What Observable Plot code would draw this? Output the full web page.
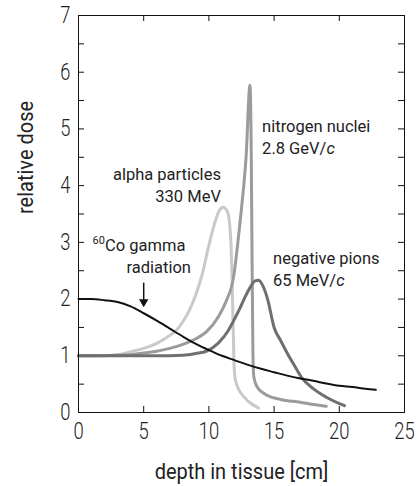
<!DOCTYPE html>
<html><head><meta charset="utf-8">
<script src="https://cdn.jsdelivr.net/npm/d3@7"></script>
<script src="https://cdn.jsdelivr.net/npm/@observablehq/plot@0.6"></script>
<style>body{margin:0;background:#fff}</style>
</head><body><div id="chart"></div>
<script>
// ---- data ----
const alphaDepth = [0, 2, 3, 4, 5, 6, 7, 7.5, 8, 8.5, 9, 9.5, 10, 10.5, 10.8, 11.1, 11.4, 11.6, 11.75, 11.85, 11.92, 12.0, 12.2, 12.5, 13.0, 13.8];
const alphaDose  = [1.0, 1.0, 1.02, 1.07, 1.13, 1.22, 1.36, 1.45, 1.6, 1.8, 2.08, 2.45, 2.95, 3.38, 3.56, 3.62, 3.55, 3.3, 2.6, 1.6, 0.9, 0.62, 0.45, 0.33, 0.2, 0.08];

const nitrogenDepth = [0, 4, 5, 6, 7, 8, 9, 9.8, 10.7, 11.3, 11.9, 12.2, 12.5, 12.85, 13.15, 13.25, 13.3, 13.38, 13.45, 13.7, 14.5, 15.5, 17, 18, 19];
const nitrogenDose  = [1.0, 1.02, 1.05, 1.08, 1.13, 1.2, 1.3, 1.42, 1.68, 1.95, 2.4, 2.95, 3.6, 4.5, 5.77, 4.5, 3.0, 1.0, 0.62, 0.45, 0.3, 0.23, 0.18, 0.14, 0.11];

const pionDepth = [0, 6, 8, 9, 9.8, 10.7, 11.5, 11.9, 12.3, 12.7, 13.2, 13.55, 13.8, 14.1, 14.5, 15.0, 15.5, 16.0, 16.5, 17.1, 18, 19, 20.4];
const pionDose  = [1.0, 1.0, 1.01, 1.04, 1.08, 1.22, 1.45, 1.62, 1.8, 2.0, 2.22, 2.32, 2.33, 2.25, 2.0, 1.5, 1.27, 1.05, 0.85, 0.62, 0.42, 0.27, 0.12];

const cobaltDepth = [0, 1, 2, 3, 4, 5, 6, 7, 8, 9, 10, 11, 12, 13, 14, 15, 16, 17, 18, 19, 20, 21, 22, 22.8];
const cobaltDose  = [2.0, 2.0, 1.98, 1.95, 1.87, 1.75, 1.62, 1.48, 1.34, 1.21, 1.1, 1.0, 0.92, 0.84, 0.77, 0.71, 0.65, 0.6, 0.56, 0.51, 0.47, 0.45, 0.42, 0.40];

const xTicks = [0, 5, 10, 15, 20, 25];
const yTicks = [0, 1, 2, 3, 4, 5, 6, 7];
const yMinorTicks = [0.5, 1, 1.5, 2, 2.5, 3, 3.5, 4, 4.5, 5, 5.5, 6, 6.5];
const xInnerTicks = [5, 10, 15, 20];

const xLabel = "depth in tissue [cm]";
const yLabel = "relative dose";

// annotation labels (text, anchor depth, anchor dose)
const labels = [
  {text: "alpha particles\n330 MeV", depth: 10.92, dose: 4.03, anchor: "end"},
  {text: "60Co gamma", depth: 1.08, dose: 2.98, anchor: "start"},
  {text: "radiation", depth: 6.15, dose: 2.59, anchor: "middle"},
  {text: "nitrogen nuclei\n2.8 GeV/c", depth: 14.08, dose: 4.88, anchor: "start"},
  {text: "negative pions\n65 MeV/c", depth: 14.92, dose: 2.55, anchor: "start"}
];
const arrowDepth = [5];
const arrowFrom = [2.29];
const arrowTo = [1.95];

// ---- build ----
const rows = (depth, dose) => depth.map((d, i) => ({depth: d, dose: dose[i]}));
const W = 418, H = 486, mL = 78, mR = 14, mT = 15, mB = 74;
const innerW = W - mL - mR, innerH = H - mT - mB;
const FONT = 'Roboto, "Liberation Sans", sans-serif';
const labelText = (anchor) => Plot.text(labels, {
  filter: d => d.anchor === anchor, x: "depth", y: "dose", text: "text",
  textAnchor: anchor, lineAnchor: "middle", lineHeight: 1.33, fontSize: 16.5, fill: "#222"
});

const chart = Plot.plot({
  width: W, height: H,
  marginLeft: mL, marginRight: mR, marginTop: mT, marginBottom: mB,
  style: {fontFamily: FONT, fontSize: "21px", fontWeight: 400, color: "#222", background: "#fff", overflow: "visible"},
  x: {domain: [0, 25]},
  y: {domain: [0, 7]},
  marks: [
    Plot.axisX(xTicks, {label: null, tickSize: 0, tickPadding: 10, fontSize: 23, fontWeight: 300, tickFormat: d => String(d)}),
    Plot.axisY(yTicks, {label: null, tickSize: 0, tickPadding: 8, fontSize: 23, fontWeight: 300, tickFormat: d => String(d)}),
    Plot.tickY(yMinorTicks, {y: d => d, insetRight: innerW - 6, stroke: "#111"}),
    Plot.tickY(yMinorTicks, {y: d => d, insetLeft: innerW - 6, stroke: "#111"}),
    Plot.tickX(xInnerTicks, {x: d => d, insetTop: innerH - 6, stroke: "#111"}),
    Plot.tickX(xInnerTicks, {x: d => d, insetBottom: innerH - 6, stroke: "#111"}),
    Plot.line(rows(alphaDepth, alphaDose), {x: "depth", y: "dose", stroke: "#c9c9c9", strokeWidth: 3, curve: "monotone-x"}),
    Plot.line(rows(nitrogenDepth, nitrogenDose), {x: "depth", y: "dose", stroke: "#9b9b9b", strokeWidth: 3, curve: "monotone-x"}),
    Plot.line(rows(pionDepth, pionDose), {x: "depth", y: "dose", stroke: "#6f6f6f", strokeWidth: 3, curve: "monotone-x"}),
    Plot.line(rows(cobaltDepth, cobaltDose), {x: "depth", y: "dose", stroke: "#111", strokeWidth: 2, curve: "monotone-x"}),
    Plot.frame({stroke: "#111", strokeWidth: 1}),
    Plot.link(arrowDepth, {x1: d => d, x2: d => d, y1: (d, i) => arrowFrom[i], y2: (d, i) => arrowTo[i], stroke: "#111", strokeWidth: 1.5}),
    Plot.dot(arrowDepth, {x: d => d, y: (d, i) => arrowTo[i], symbol: "triangle", rotate: 180, r: 3.5, fill: "#111", stroke: "none"}),
    labelText("start"),
    labelText("middle"),
    labelText("end"),
    Plot.text([xLabel], {frameAnchor: "bottom", dy: 66, fontSize: 21.5, fill: "#222", className: "axlab"}),
    Plot.text([yLabel], {frameAnchor: "left", dx: -52, rotate: -90, fontSize: 21.5, fill: "#222", className: "axlab"})
  ]
});
document.getElementById("chart").appendChild(chart);

// condense some texts (the reference uses a condensed face)
function condense(selector, k) {
  chart.querySelectorAll(selector).forEach(el => {
    const len = el.getComputedTextLength();
    el.setAttribute("textLength", (len * k).toFixed(2));
    el.setAttribute("lengthAdjust", "spacingAndGlyphs");
  });
}
condense('g[aria-label="x-axis tick label"] text, g[aria-label="y-axis tick label"] text', 0.8);
condense('.axlab text', 0.93);

// italic "c" and superscript "60"
const svgNS = "http://www.w3.org/2000/svg";
chart.querySelectorAll("text, tspan").forEach(el => {
  if (el.children.length) return;
  const t = el.textContent;
  if (/\/c$/.test(t)) {
    el.textContent = t.slice(0, -1);
    const it = document.createElementNS(svgNS, "tspan");
    it.setAttribute("font-style", "italic");
    it.textContent = "c";
    el.appendChild(it);
  } else if (t === "60Co gamma") {
    el.textContent = "";
    const sup = document.createElementNS(svgNS, "tspan");
    sup.setAttribute("font-size", "11");
    sup.setAttribute("dy", "-7");
    sup.textContent = "60";
    const rest = document.createElementNS(svgNS, "tspan");
    rest.setAttribute("dy", "7");
    rest.textContent = "Co gamma";
    el.appendChild(sup); el.appendChild(rest);
  }
});
</script>
</body></html>
